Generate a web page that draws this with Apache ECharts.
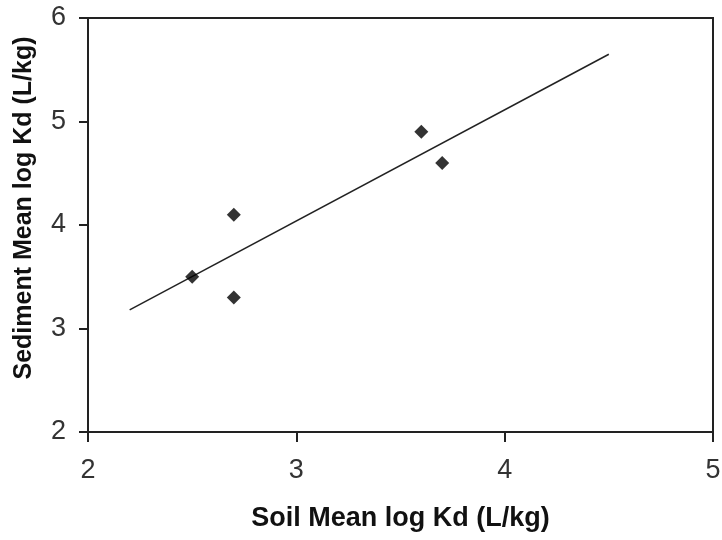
<!DOCTYPE html>
<html>
<head>
<meta charset="utf-8">
<script src="https://cdn.jsdelivr.net/npm/echarts@6/dist/echarts.min.js"></script>
<style>
  html, body { margin: 0; padding: 0; background: #fff; }
  #chart { width: 722px; height: 540px; }
</style>
</head>
<body>
<div id="chart"></div>
<script>
// soil vs sediment mean log Kd
const soilLogKd = [2.5, 2.7, 2.7, 3.6, 3.7]
const sedimentLogKd = [3.5, 4.1, 3.3, 4.9, 4.6]
// linear trend line ends
const trendX = [2.2, 4.5]
const trendY = [3.18, 5.65]

const points = soilLogKd.map((x, i) => [x, sedimentLogKd[i]])
const trend = trendX.map((x, i) => [x, trendY[i]])

const chart = echarts.init(document.getElementById('chart'))
chart.setOption({
  backgroundColor: '#ffffff',
  animation: false,
  grid: {
    left: 88,
    right: 9,
    top: 18,
    bottom: 108,
    outerBoundsMode: 'none',
    show: true,
    borderColor: '#222',
    borderWidth: 2
  },
  xAxis: {
    type: 'value',
    min: 2,
    max: 5,
    interval: 1,
    name: 'Soil Mean log Kd (L/kg)',
    nameLocation: 'middle',
    nameGap: 87,
    nameTextStyle: {
      fontFamily: 'Liberation Sans',
      fontWeight: 'bold',
      fontSize: 27,
      color: '#111',
      verticalAlign: 'middle'
    },
    axisLine: { lineStyle: { color: '#222', width: 2 } },
    axisTick: { show: true, length: 10, lineStyle: { color: '#222', width: 2 } },
    axisLabel: {
      margin: 25,
      fontFamily: 'Liberation Sans',
      fontSize: 27,
      color: '#333'
    },
    splitLine: { show: false }
  },
  yAxis: {
    type: 'value',
    min: 2,
    max: 6,
    interval: 1,
    name: 'Sediment Mean log Kd (L/kg)',
    nameLocation: 'middle',
    nameGap: 64,
    nameTextStyle: {
      fontFamily: 'Liberation Sans',
      fontWeight: 'bold',
      fontSize: 25,
      color: '#111',
      verticalAlign: 'middle',
      padding: [0, 0, 0, 34]
    },
    axisLine: { lineStyle: { color: '#222', width: 2 } },
    axisTick: { show: true, length: 9, lineStyle: { color: '#222', width: 2 } },
    axisLabel: {
      margin: 22,
      fontFamily: 'Liberation Sans',
      fontSize: 27,
      color: '#333'
    },
    splitLine: { show: false }
  },
  series: [
    {
      type: 'line',
      data: trend,
      showSymbol: false,
      symbol: 'none',
      lineStyle: { color: '#222', width: 1.5 },
      z: 2
    },
    {
      type: 'scatter',
      data: points,
      symbol: 'diamond',
      symbolSize: 14,
      itemStyle: { color: '#000' },
      z: 3
    }
  ]
})
</script>
</body>
</html>
